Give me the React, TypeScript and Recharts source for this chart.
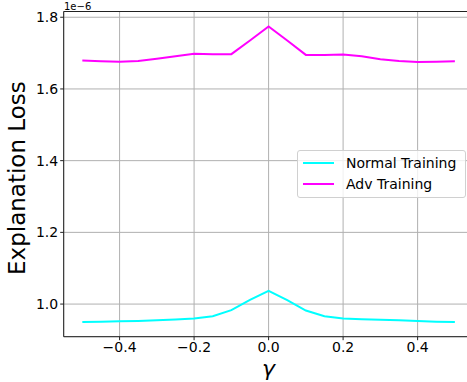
import React from 'react';
import { LineChart, Line, XAxis, YAxis, CartesianGrid, ReferenceLine, Label } from 'recharts';

const gammas = [-0.5, -0.45, -0.4, -0.35, -0.3, -0.25, -0.2, -0.15, -0.1, -0.05, 0, 0.05, 0.1, 0.15, 0.2, 0.25, 0.3, 0.35, 0.4, 0.45, 0.5];
const normalTraining = [0.950, 0.951, 0.952, 0.953, 0.955, 0.957, 0.960, 0.966, 0.983, 1.012, 1.037, 1.011, 0.982, 0.966, 0.960, 0.958, 0.956, 0.955, 0.953, 0.951, 0.950];
const advTraining = [1.679, 1.677, 1.676, 1.678, 1.684, 1.691, 1.698, 1.697, 1.697, 1.735, 1.774, 1.735, 1.695, 1.695, 1.696, 1.691, 1.683, 1.678, 1.675, 1.676, 1.677];
const xTicks = [-0.4, -0.2, 0, 0.2, 0.4];
const yTicks = [1.0, 1.2, 1.4, 1.6, 1.8];
const seriesNames = ['Normal Training', 'Adv Training'];
const seriesColors = ['#00ffff', '#ff00ff'];

const data = gammas.map((g, i) => ({ g, normal: normalTraining[i], adv: advTraining[i] }));

const FONT = '"DejaVu Sans", sans-serif';
const Y_MIN = 0.909;
const Y_MAX = 1.816;

const fmtX = (v: number) => {
  const s = Math.abs(v).toFixed(1);
  return v < -1e-9 ? '\u2212' + s : s;
};

const LegendBox = () => (
  <div
    style={{
      position: 'absolute',
      left: 297,
      top: 150,
      width: 167,
      height: 46,
      border: '1px solid #d0d0d0',
      borderRadius: 3,
      background: 'rgba(255,255,255,0.8)',
      fontFamily: FONT,
      fontSize: 14,
      color: '#000',
    }}
  >
    {seriesNames.map((n, i) => (
      <div key={n} style={{ position: 'absolute', left: 0, top: 3 + i * 20.5, height: 18, display: 'flex', alignItems: 'center' }}>
        <div style={{ marginLeft: 5, width: 31, height: 2, background: seriesColors[i] }} />
        <span style={{ marginLeft: 12, whiteSpace: 'nowrap' }}>{n}</span>
      </div>
    ))}
  </div>
);

export default function App() {
  return (
    <div style={{ position: 'absolute', left: 0, top: 0, width: 467, height: 382, overflow: 'hidden', background: '#fff' }}>
      <LineChart width={480} height={382} data={data} margin={{ top: 11.5, right: 6.5, left: 0, bottom: 0 }}>
        <CartesianGrid stroke="#b0b0b0" strokeWidth={1} />
        <XAxis
          dataKey="g"
          type="number"
          domain={[-0.55, 0.55]}
          ticks={xTicks}
          tickFormatter={fmtX}
          height={45.3}
          tickSize={3.5}
          tick={{ fontSize: 14, fill: '#000', fontFamily: FONT }}
          stroke="#222"
          tickLine={{ stroke: '#222' }}
          allowDataOverflow
        >
          <Label value="γ" position="insideBottom" offset={6} style={{ fontSize: 22, fontStyle: 'italic', fill: '#000', fontFamily: FONT }} />
        </XAxis>
        <YAxis
          type="number"
          domain={[Y_MIN, Y_MAX]}
          ticks={yTicks}
          tickFormatter={(v: number) => v.toFixed(1)}
          width={63.7}
          tickSize={3.5}
          tick={{ fontSize: 14, fill: '#000', fontFamily: FONT }}
          stroke="#222"
          tickLine={{ stroke: '#222' }}
          allowDataOverflow
        >
          <Label value="Explanation Loss" angle={-90} position="insideLeft" offset={17} dy={4} style={{ fontSize: 23, fill: '#000', fontFamily: FONT, textAnchor: 'middle' }} />
        </YAxis>
        <ReferenceLine y={Y_MAX} stroke="#222" strokeWidth={1} />
        <Line name={seriesNames[0]} dataKey="normal" stroke={seriesColors[0]} strokeWidth={2} dot={false} isAnimationActive={false} type="linear" />
        <Line name={seriesNames[1]} dataKey="adv" stroke={seriesColors[1]} strokeWidth={2} dot={false} isAnimationActive={false} type="linear" />
      </LineChart>
      <div style={{ position: 'absolute', left: 64, top: 1, fontFamily: FONT, fontSize: 10, color: '#000' }}>1e{'\u2212'}6</div>
      <LegendBox />
    </div>
  );
}
